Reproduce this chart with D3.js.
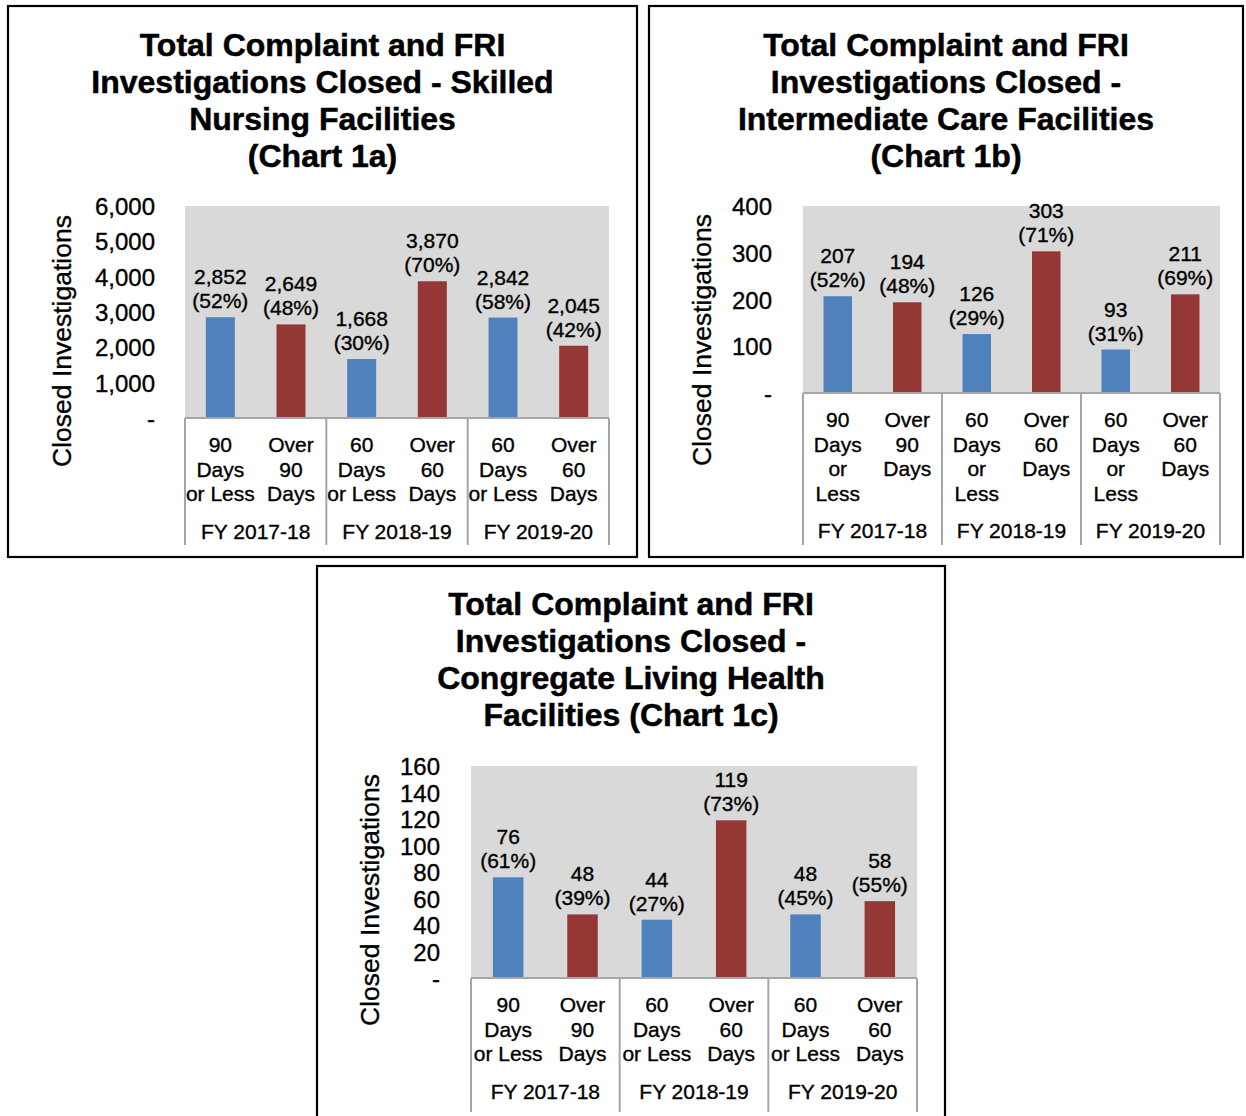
<!DOCTYPE html>
<html>
<head>
<meta charset="utf-8">
<script src="https://cdn.jsdelivr.net/npm/d3@7"></script>
<style>
  html, body { margin: 0; padding: 0; background: #fff; }
  svg { display: block; }
  text { font-family: "Liberation Sans", Arial, Helvetica, sans-serif; fill: #000; stroke: #000; stroke-width: 0.35px; }
  text.title { stroke-width: 0.5px; }
</style>
</head>
<body>
<svg id="chart" width="1246" height="1116"></svg>
<script>
// ---------- DATA ----------
const fiscalYears = ["FY 2017-18", "FY 2018-19", "FY 2019-20"];
const categories = ["90 Days or Less", "Over 90 Days", "60 Days or Less", "Over 60 Days", "60 Days or Less", "Over 60 Days"];
const seriesColor = ["#4F81BD", "#953735", "#4F81BD", "#953735", "#4F81BD", "#953735"];

const labelLines3 = [["90", "Days", "or Less"], ["Over", "90", "Days"], ["60", "Days", "or Less"], ["Over", "60", "Days"], ["60", "Days", "or Less"], ["Over", "60", "Days"]];
const labelLines4 = [["90", "Days", "or", "Less"], ["Over", "90", "Days"], ["60", "Days", "or", "Less"], ["Over", "60", "Days"], ["60", "Days", "or", "Less"], ["Over", "60", "Days"]];

const snfValues = [2852, 2649, 1668, 3870, 2842, 2045];
const snfPercent = [52, 48, 30, 70, 58, 42];
const snfTicks = [0, 1000, 2000, 3000, 4000, 5000, 6000];

const icfValues = [207, 194, 126, 303, 93, 211];
const icfPercent = [52, 48, 29, 71, 31, 69];
const icfTicks = [0, 100, 200, 300, 400];

const clhfValues = [76, 48, 44, 119, 48, 58];
const clhfPercent = [61, 39, 27, 73, 45, 55];
const clhfTicks = [0, 20, 40, 60, 80, 100, 120, 140, 160];

const titleA = ["Total Complaint and FRI", "Investigations Closed - Skilled", "Nursing Facilities", "(Chart 1a)"];
const titleB = ["Total Complaint and FRI", "Investigations Closed -", "Intermediate Care Facilities", "(Chart 1b)"];
const titleC = ["Total Complaint and FRI", "Investigations Closed -", "Congregate Living Health", "Facilities (Chart 1c)"];
const yAxisTitle = "Closed Investigations";

// ---------- DRAW ----------
const svg = d3.select("#chart");
const fmt = d3.format(",");

function drawPanel(cfg) {
  const g = svg.append("g");
  // frame
  g.append("rect")
    .attr("x", cfg.frame[0]).attr("y", cfg.frame[1])
    .attr("width", cfg.frame[2]).attr("height", cfg.frame[3])
    .attr("fill", "#fff").attr("stroke", "#000").attr("stroke-width", 2.2);

  // title
  const cx = cfg.frame[0] + cfg.frame[2] / 2;
  cfg.title.forEach((t, i) => {
    g.append("text").attr("class", "title")
      .attr("x", cx).attr("y", cfg.titleY + i * 37)
      .attr("text-anchor", "middle")
      .attr("font-size", 32).attr("font-weight", "bold")
      .text(t);
  });

  const x = d3.scaleBand().domain(d3.range(categories.length)).range([cfg.left, cfg.right]).padding(0);
  const y = d3.scaleLinear().domain([0, cfg.max]).range([cfg.bottom, cfg.top]);

  // plot area
  g.append("rect")
    .attr("x", cfg.left).attr("y", cfg.top)
    .attr("width", cfg.right - cfg.left).attr("height", cfg.bottom - cfg.top)
    .attr("fill", "#D9D9D9");

  // bars
  const bw = x.bandwidth() * 0.41;
  g.selectAll(".bar").data(cfg.values).enter().append("rect")
    .attr("x", (d, i) => x(i) + (x.bandwidth() - bw) / 2)
    .attr("y", d => y(d))
    .attr("width", bw)
    .attr("height", d => cfg.bottom - y(d))
    .attr("fill", (d, i) => seriesColor[i]);

  // value labels
  cfg.values.forEach((v, i) => {
    const bx = x(i) + x.bandwidth() / 2;
    const t = g.append("text").attr("text-anchor", "middle").attr("font-size", 21);
    t.append("tspan").attr("x", bx).attr("y", y(v) - 33).text(fmt(v));
    t.append("tspan").attr("x", bx).attr("y", y(v) - 9).text("(" + cfg.percent[i] + "%)");
  });

  // y axis (labels only)
  const yAxis = d3.axisLeft(y).tickValues(cfg.ticks)
    .tickFormat(d => d === 0 ? "-" : fmt(d)).tickSize(0).tickPadding(0);
  const ya = g.append("g").attr("transform", `translate(${cfg.tickRight},0)`).call(yAxis);
  ya.select(".domain").remove();
  ya.selectAll("text").attr("font-size", 24).attr("font-family", "Liberation Sans, Arial, sans-serif")
    .attr("fill", "#000").attr("stroke", "#000").attr("stroke-width", 0.35)
    .attr("dy", "0.36em");

  // y axis title
  g.append("text")
    .attr("transform", `translate(${cfg.yTitleX},${cfg.yTitleY}) rotate(-90)`)
    .attr("text-anchor", "middle").attr("font-size", 26.5)
    .text(yAxisTitle);

  // category axis box lines
  const axisColor = "#A6A6A6";
  g.append("line")
    .attr("x1", cfg.left).attr("x2", cfg.right)
    .attr("y1", cfg.bottom).attr("y2", cfg.bottom)
    .attr("stroke", axisColor).attr("stroke-width", 2);
  const groupBounds = [0, 2, 4, 6].map(k => k < 6 ? x(k) : cfg.right);
  groupBounds.forEach(bx => {
    g.append("line")
      .attr("x1", bx).attr("x2", bx)
      .attr("y1", cfg.bottom).attr("y2", cfg.axisBottom)
      .attr("stroke", axisColor).attr("stroke-width", 2);
  });

  // category labels
  cfg.lines.forEach((lines, i) => {
    const bx = x(i) + x.bandwidth() / 2;
    const t = g.append("text").attr("text-anchor", "middle").attr("font-size", 21);
    lines.forEach((ln, j) => {
      t.append("tspan").attr("x", bx).attr("y", cfg.catY + j * 24.5).text(ln);
    });
  });

  // fiscal-year labels
  fiscalYears.forEach((fy, k) => {
    const gx = (groupBounds[k] + groupBounds[k + 1]) / 2;
    g.append("text")
      .attr("x", gx).attr("y", cfg.fyY)
      .attr("text-anchor", "middle").attr("font-size", 21)
      .text(fy);
  });
}

drawPanel({
  frame: [8, 6, 629, 551], title: titleA, titleY: 56,
  left: 185, right: 609, top: 206, bottom: 418, axisBottom: 545,
  max: 6000, ticks: snfTicks, values: snfValues, percent: snfPercent,
  tickRight: 155, yTitleX: 71, yTitleY: 341, lines: labelLines3, catY: 452, fyY: 539
});

drawPanel({
  frame: [649, 6, 594, 551], title: titleB, titleY: 56,
  left: 803, right: 1220, top: 206, bottom: 393, axisBottom: 545,
  max: 400, ticks: icfTicks, values: icfValues, percent: icfPercent,
  tickRight: 772, yTitleX: 711, yTitleY: 340, lines: labelLines4, catY: 427, fyY: 538
});

drawPanel({
  frame: [317, 566, 628, 562], title: titleC, titleY: 615,
  left: 471, right: 917, top: 766, bottom: 978, axisBottom: 1112,
  max: 160, ticks: clhfTicks, values: clhfValues, percent: clhfPercent,
  tickRight: 440, yTitleX: 379, yTitleY: 900, lines: labelLines3, catY: 1012, fyY: 1099
});
</script>
</body>
</html>
